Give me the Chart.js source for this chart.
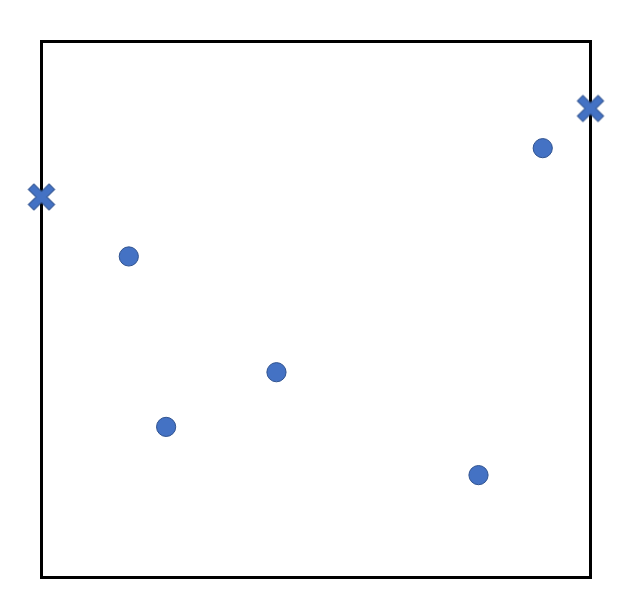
<!DOCTYPE html>
<html>
<head>
<meta charset="utf-8">
<script src="https://cdn.jsdelivr.net/npm/chart.js@4/dist/chart.umd.min.js"></script>
<style>
html,body{margin:0;padding:0;background:#fff;}
#wrap{width:632px;height:608px;}
</style>
</head>
<body>
<div id="wrap"><canvas id="c" width="632" height="608"></canvas></div>
<script>
// Data (axis units 0..100 on both axes)
const circleX = [15.9, 22.7, 42.8, 79.6, 91.3];
const circleY = [59.9, 28.1, 38.3, 19.1, 80.1];
const crossX = [0, 100];
const crossY = [71.0, 87.5];

const fillColor = '#4472C4';
const strokeColor = '#2F528F';

function makeCross() {
  const size = 30;
  const cv = document.createElement('canvas');
  cv.width = size; cv.height = size;
  const ctx = cv.getContext('2d');
  ctx.translate(size / 2, size / 2);
  ctx.rotate(Math.PI / 4);
  const L = 14.6, a = 3.9;
  const pts = [[-a,-L],[a,-L],[a,-a],[L,-a],[L,a],[a,a],[a,L],[-a,L],[-a,a],[-L,a],[-L,-a],[-a,-a]];
  ctx.beginPath();
  pts.forEach((p, i) => i ? ctx.lineTo(p[0], p[1]) : ctx.moveTo(p[0], p[1]));
  ctx.closePath();
  ctx.fillStyle = fillColor;
  ctx.fill();
  ctx.lineWidth = 1;
  ctx.strokeStyle = strokeColor;
  ctx.stroke();
  return cv;
}
const crossImg = makeCross();

const frameUnder = {
  id: 'frameUnder',
  beforeDatasetsDraw(chart) {
    const {ctx, chartArea: a} = chart;
    ctx.save();
    ctx.strokeStyle = '#000';
    ctx.lineWidth = 3;
    ctx.strokeRect(a.left, a.top, a.right - a.left, a.bottom - a.top);
    ctx.restore();
  }
};

new Chart(document.getElementById('c'), {
  type: 'scatter',
  data: {
    datasets: [
      {
        data: circleX.map((x, i) => ({x, y: circleY[i]})),
        pointStyle: 'circle',
        pointRadius: 9.6,
        pointHoverRadius: 9.6,
        backgroundColor: fillColor,
        borderColor: strokeColor,
        borderWidth: 1,
        clip: false
      },
      {
        data: crossX.map((x, i) => ({x, y: crossY[i]})),
        pointStyle: crossImg,
        pointRadius: 15,
        backgroundColor: fillColor,
        borderColor: strokeColor,
        clip: false
      }
    ]
  },
  options: {
    responsive: false,
    animation: false,
    events: [],
    layout: { padding: { left: 41.5, top: 41.5, right: 41.5, bottom: 30.5 } },
    plugins: { legend: { display: false }, tooltip: { enabled: false } },
    scales: {
      x: { type: 'linear', min: 0, max: 100, display: false },
      y: { type: 'linear', min: 0, max: 100, display: false }
    }
  },
  plugins: [frameUnder]
});
</script>
</body>
</html>
